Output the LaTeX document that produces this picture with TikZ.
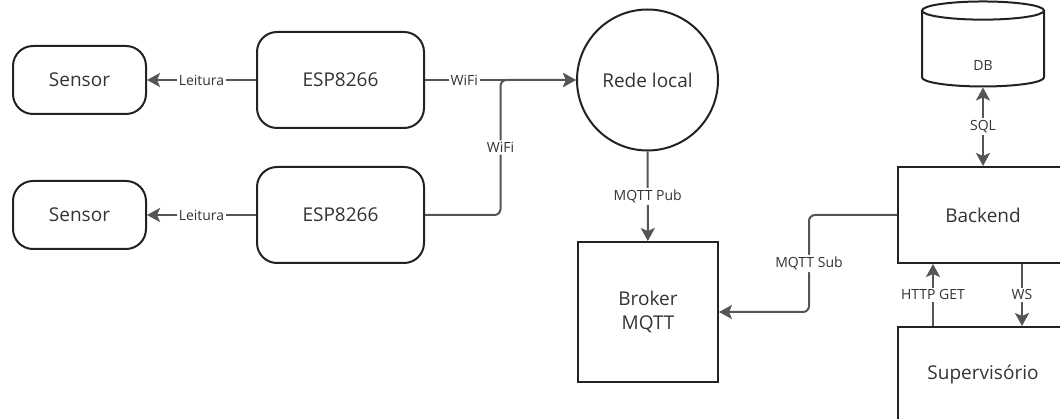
\documentclass[tikz,border=0pt]{standalone}
\usepackage{fontspec}
\setmainfont{Open Sans}
\usetikzlibrary{calc,arrows.meta,shapes.geometric,positioning}
\definecolor{inkblack}{HTML}{222222}
\definecolor{edgegray}{HTML}{555555}
\definecolor{textgray}{HTML}{333333}
\tikzset{
    >={Stealth[length=13pt,width=14pt,inset=3pt]},
    device/.style={
    rectangle,rounded corners=20pt,draw=inkblack,line width=2pt,text=textgray,font=\fontsize{19}{23}\selectfont
    },
    server/.style={
    rectangle,draw=inkblack,line width=2pt,text=textgray,align=center,font=\fontsize{19}{24}\selectfont
    },
    network/.style={
    circle,draw=inkblack,line width=2pt,minimum size=141pt,text=textgray,font=\fontsize{19}{23}\selectfont
    },
    storage/.style={
    cylinder,shape border rotate=90,aspect=0.7,draw=inkblack,line width=2pt,text=textgray,font=\fontsize{14}{17}\selectfont
    },
    link/.style={
    draw=edgegray,line width=2pt,->
    },
    dlink/.style={
    draw=edgegray,line width=2pt,<->
    },
    msg/.style={
    fill=white,text=textgray,inner sep=2pt,font=\fontsize{14}{17}\selectfont
    },
}
\begin{document}
\begin{tikzpicture}[x=1pt,y=-1pt]
   \useasboundingbox (0,0) rectangle (1060,419);
   \clip (0,0) rectangle (1060,419);
   % devices
   \node[device,minimum width=133pt,minimum height=68pt] (sensor1) at (79.5,80) {Sensor};
   \node[device,minimum width=133pt,minimum height=68pt] (sensor2) at (79.5,215) {Sensor};
   \node[device,minimum width=167pt,minimum height=96pt] (esp1) at (340.5,80) {ESP8266};
   \node[device,minimum width=167pt,minimum height=96pt] (esp2) at (340.5,215) {ESP8266};
   \node[network] (rede) at (647.5,80) {Rede local};
   % servers
   \node[server,minimum size=140pt] (broker) at (648,312) {Broker\\MQTT};
   \node[storage,minimum width=122pt,minimum height=85pt] (db) at (983,50.5) {\raisebox{-20pt}[0pt][0pt]{DB}};
   \node[server,minimum width=170pt,minimum height=96pt] (backend) at (983,215) {Backend};
   \node[server,minimum width=170pt,minimum height=96pt] (super) at (983,375) {Supervisório};

   \coordinate (wifijoin) at ($(rede.west)+(-75.5,0)$);
   \coordinate (subbend) at ($(broker.east)+(90,0)$);
   \coordinate (getlow) at ($(super.north west)+(36,0)$);
   \coordinate (gethigh) at ($(backend.south west)+(36,0)$);
   \coordinate (wshigh) at ($(backend.south west)+(125,0)$);
   \coordinate (wslow) at ($(super.north west)+(125,0)$);

  \path
    (esp1) edge[link] node[msg] {Leitura} (sensor1)
    (esp2) edge[link] node[msg] {Leitura} (sensor2)
    (esp1) edge[link] node[msg,pos=0.26] {WiFi} (rede)
    (rede) edge[link] node[msg] {MQTT Pub} (broker)
    (getlow) edge[link] node[msg] {HTTP GET} (gethigh)
    (wshigh) edge[link] node[msg] {WS} (wslow)
    (db) edge[dlink] node[msg] {SQL} (backend);
  \draw[link,rounded corners=6pt] (esp2.east) -| node[msg,pos=0.75] {WiFi} (wifijoin) -- (rede.west);
  \draw[link,rounded corners=6pt] (backend.west) -| node[msg,pos=0.75] {MQTT Sub} (subbend) -- (broker.east);
\end{tikzpicture}
\end{document}
